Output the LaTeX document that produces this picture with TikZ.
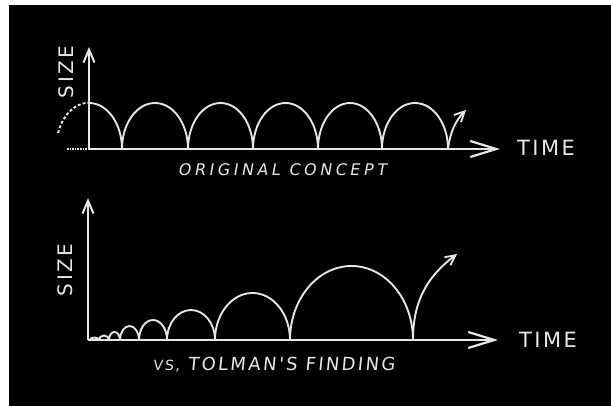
\documentclass[tikz,border=0pt]{standalone}
\usepackage{fontspec}
\usetikzlibrary{arrows.meta}
\newfontfamily\handA{DejaVu Sans}[LetterSpace=12]
\newfontfamily\handB{DejaVu Sans}[LetterSpace=22,FakeSlant=0.18]
\newfontfamily\handC{DejaVu Sans}[LetterSpace=13,FakeSlant=0.1]
\definecolor{chalk}{RGB}{230,230,230}
\tikzset{
  curve/.style={draw=chalk,line width=1.9pt},
  axis/.style={draw=chalk,line width=2.3pt},
  xarrow/.style={-{Straight Barb[length=26pt,width=16pt,line width=2.2pt]}},
  yarrow/.style={-{Straight Barb[length=13pt,width=11pt,line width=2pt]}},
  riser/.style={-{Straight Barb[length=10pt,width=10pt,line width=1.8pt]}},
  lbl/.style={text=chalk,inner sep=0pt}
}
\begin{document}
\begin{tikzpicture}[x=1pt,y=1pt]
\useasboundingbox (0,0) rectangle (611,-406);
\fill[white] (0,0) rectangle (611,-406);
\fill[black] (9,-5) rectangle (611,-406);

% ---- top panel ----
\coordinate (to) at (89,-149);
\coordinate (tyend) at (89,-47);
\coordinate (txend) at (500,-149);
\draw[axis,line width=1.6pt,densely dotted] (67,-149) -- (to);
\draw[axis,xarrow] (to) -- (txend);
\draw[axis,yarrow] (to) -- (tyend);
\draw[curve,densely dashed] (58,-133) arc[start angle=160,end angle=90,x radius=33,y radius=46];
\draw[curve] (89,-103) arc[start angle=90,end angle=0,x radius=33,y radius=46]
  arc[start angle=180,end angle=0,x radius=33,y radius=46]
  arc[start angle=180,end angle=0,x radius=32.5,y radius=46]
  arc[start angle=180,end angle=0,x radius=32.5,y radius=46]
  arc[start angle=180,end angle=0,x radius=32,y radius=46]
  arc[start angle=180,end angle=0,x radius=33,y radius=46] coordinate (tlast);
\coordinate (ttip) at (466,-110);
\draw[curve,riser] (tlast) .. controls (450,-132) and (456,-120) .. (ttip);
\node[lbl,rotate=90] (tsize) at (66,-72) {\fontsize{20}{20}\handA SIZE};
\node[lbl] (ttime) at (546,-148) {\fontsize{21}{21}\handA TIME};
\node[lbl] (tcap) at (282,-170) {\fontsize{16}{16}\handB ORIGINAL CONCEPT};

% ---- bottom panel ----
\coordinate (bo) at (88,-340);
\coordinate (byend) at (88,-198);
\coordinate (bxend) at (498,-340);
\draw[axis,xarrow] (bo) -- (bxend);
\draw[axis,yarrow] (bo) -- (byend);
\foreach \a/\b/\h in {90/99/2.5,99/109/4.5,109/120/8,120/139/14,139/167/20,167/215/30,215/290/47,290/413/74}
  \draw[curve] (\a,-340) arc[start angle=180,end angle=0,x radius={(\b-\a)/2},y radius=\h];
\coordinate (blast) at (413,-340);
\coordinate (btip) at (457,-254);
\draw[curve,riser] (blast) .. controls (413,-300) and (428,-276) .. (btip);
\node[lbl,rotate=90] (bsize) at (65,-270) {\fontsize{20}{20}\handA SIZE};
\node[lbl] (btime) at (548,-340) {\fontsize{21}{21}\handA TIME};
\node[lbl] (bcap) at (274,-365) {\fontsize{18}{18}\handC {\fontsize{14}{14}\selectfont VS,} TOLMAN'S FINDING};
\end{tikzpicture}
\end{document}
